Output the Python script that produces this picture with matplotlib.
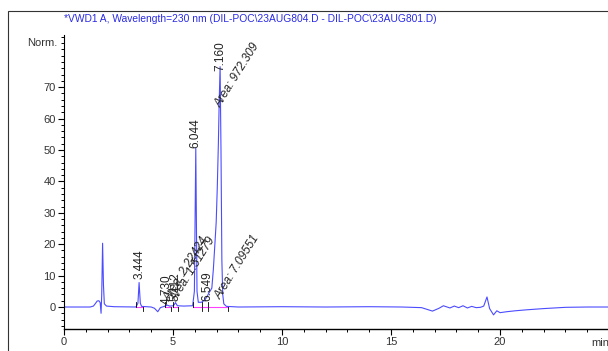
import matplotlib
matplotlib.use("Agg")
import matplotlib.pyplot as plt
from matplotlib.ticker import MultipleLocator
from matplotlib.patches import Rectangle

plt.rcParams['font.family'] = ['Liberation Sans', 'DejaVu Sans']

# signal trace (time in min, signal in Norm.)
time = [0.0, 1.2, 1.35, 1.45, 1.52, 1.6, 1.66, 1.7, 1.73, 1.77, 1.81, 1.85, 1.95, 2.3,
        3.3, 3.39, 3.444, 3.5, 3.56, 4.0, 4.15, 4.3, 4.42, 4.6, 4.73, 4.85, 5.02, 5.112,
        5.2, 5.5, 5.9, 5.98, 6.044, 6.1, 6.16, 6.3, 6.45, 6.549, 6.65, 6.78, 6.85, 6.92,
        6.98, 7.03, 7.08, 7.12, 7.16, 7.2, 7.24, 7.28, 7.33, 7.45, 8.0, 10.0, 12.0, 14.0,
        15.5, 16.4, 16.9, 17.2, 17.4, 17.7, 17.9, 18.1, 18.3, 18.5, 18.7, 18.9, 19.1, 19.25,
        19.4, 19.52, 19.7, 19.85, 20.0, 20.3, 20.7, 21.2, 22.0, 23.0, 24.0, 25.0]
signal = [0.0, 0.0, 0.3, 1.2, 1.9, 2.0, 1.4, -2.0, 4.0, 20.3, 7.0, 1.0, 0.3, 0.1,
          0.0, 1.2, 7.8, 1.2, 0.2, 0.0, -0.4, -1.5, -0.2, 0.2, 0.6, 0.3, 0.4, 1.4,
          0.4, 0.3, 0.4, 5.0, 50.5, 5.0, 1.5, 1.5, 2.2, 3.2, 4.5, 6.0, 12.0, 20.0,
          27.0, 38.0, 52.0, 66.0, 76.5, 50.0, 15.0, 4.0, 1.0, 0.2, 0.0, 0.1, 0.0, 0.1,
          0.0, -0.2, -1.3, -0.4, 0.4, -0.3, 0.3, -0.2, 0.4, -0.3, 0.2, -0.2, -0.1, 0.3,
          3.2, -0.5, -2.5, -1.2, -1.8, -1.5, -1.2, -0.9, -0.5, -0.1, 0.0, 0.0]

# retention time labels
rt_labels = ['3.444', '4.730', '5.112', '6.044', '6.549', '7.160']
rt_pos = [3.444, 4.70, 5.13, 6.044, 6.56, 7.16]
rt_height = [9.0, 0.8, 2.0, 50.5, 1.8, 75.0]

# area labels
area_labels = ['Area: 2.22424', 'Area: 1.51279', 'Area: 7.09551', 'Area: 972.309']
area_pos = [4.95, 5.3, 7.3, 7.3]
area_height = [1.2, 1.2, 1.6, 63.0]

# integration limits
int_start = [3.30, 4.62, 5.02, 5.92, 6.35, 6.62]
int_end = [3.62, 4.90, 5.25, 6.35, 6.62, 7.50]

fig = plt.figure(figsize=(6.08, 3.51), dpi=100)
ax = fig.add_axes([64 / 608, 1 - 329 / 351, 1 - 64 / 608, (329 - 35) / 351])

ax.plot(time, signal, color='#4c4cff', linewidth=0.8)

# integration baselines and tick marks
for s, e in zip(int_start, int_end):
    ax.plot([s, e], [0.1, 0.1], color='#ff40ff', linewidth=0.8)
    ax.plot([s, s], [0.0, 1.6], color='black', linewidth=0.6)
    ax.plot([e, e], [0.0, -1.2], color='black', linewidth=0.6)

for lab, x, y in zip(rt_labels, rt_pos, rt_height):
    ax.text(x, y, lab, rotation=90, ha='center', va='bottom', fontsize=8.5, color='#222222')

for lab, x, y in zip(area_labels, area_pos, area_height):
    ax.text(x, y, lab, rotation=58, ha='left', va='bottom', fontsize=8.5,
            style='italic', color='#222222', rotation_mode='anchor')

ax.set_xlim(0, 24.95)
ax.set_ylim(-7.0, 86.6)
ax.xaxis.set_major_locator(MultipleLocator(5))
ax.xaxis.set_minor_locator(MultipleLocator(1))
ax.yaxis.set_major_locator(MultipleLocator(10))
ax.yaxis.set_minor_locator(MultipleLocator(2))
ax.set_yticks([0, 10, 20, 30, 40, 50, 60, 70])
ax.set_xticks([0, 5, 10, 15, 20])
ax.tick_params(axis='both', which='major', labelsize=8, labelcolor='#333333', length=4, width=0.8, pad=2)
ax.tick_params(axis='both', which='minor', length=2.5, width=0.7)
for side in ['top', 'right']:
    ax.spines[side].set_visible(False)
ax.spines['left'].set_linewidth(0.8)
ax.spines['bottom'].set_linewidth(1.0)

# axis captions
fig.text(57 / 608, 1 - 43 / 351, 'Norm.', ha='right', va='center', fontsize=8, color='#333333')
fig.text(600 / 608, 1 - 343 / 351, 'min', ha='center', va='center', fontsize=8, color='#333333')

# title
fig.text(64 / 608, 1 - 19 / 351,
         '*VWD1 A, Wavelength=230 nm (DIL-POC\\23AUG804.D - DIL-POC\\23AUG801.D)',
         ha='left', va='center', fontsize=7.4, color='#2a2ae6')

# outer frame
fig.patches.append(Rectangle((8 / 608, -0.05), 1.1, 1.05 - 11 / 351, transform=fig.transFigure,
                             fill=False, edgecolor='#333333', linewidth=0.8))

fig.savefig('out.png', dpi=100)
